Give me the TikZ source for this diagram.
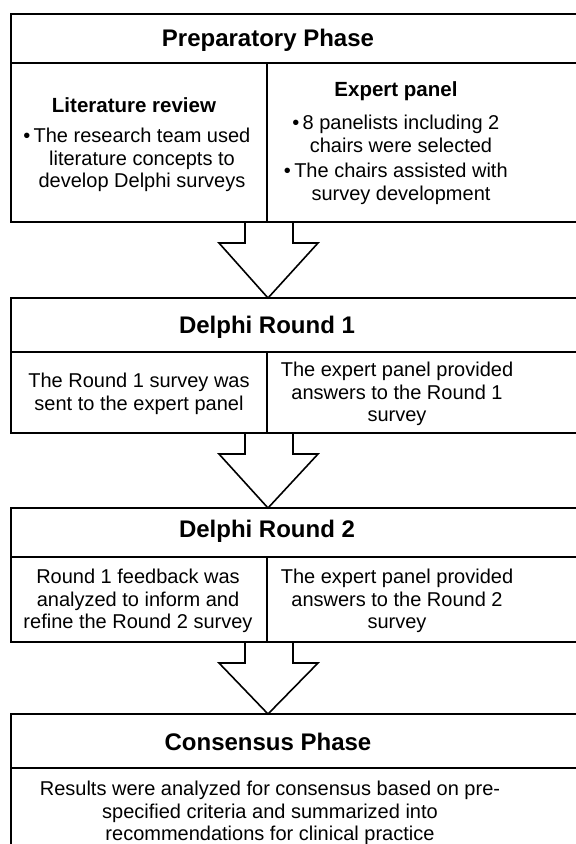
\documentclass[tikz,border=0pt]{standalone}
\usepackage{fontspec}
\setmainfont{Liberation Sans}
\usetikzlibrary{positioning,calc}

% hollow arrow between two boxes
\newcommand{\bigarrow}[2]{%
  \draw[boxline] ($(#1)+(-23,0)$) -- ($(#1)+(-23,21)$) -- ($(#1)+(-49,21)$) -- (#2)
    -- ($(#1)+(50,21)$) -- ($(#1)+(25,21)$) -- ($(#1)+(25,0)$);}

\begin{document}
\begin{tikzpicture}[x=1pt,y=-1pt,
    boxline/.style={line width=1.6pt,line join=miter},
    phase/.style={inner sep=0pt,font=\bfseries\fontsize{24}{28}\selectfont},
    subhead/.style={inner sep=0pt,font=\bfseries\fontsize{20.5}{24}\selectfont},
    body/.style={inner sep=0pt,align=center,font=\fontsize{20}{22.5}\selectfont}]
    \useasboundingbox (0,0) rectangle (576,844);
    \clip (0,0) rectangle (576,844);

    % Boxes
    \draw[boxline] (11,14) rectangle (584,222);
    \draw[boxline] (11,63) -- (584,63) (267,63) -- (267,222);
    \draw[boxline] (11,298) rectangle (584,433);
    \draw[boxline] (11,352) -- (584,352) (267,352) -- (267,433);
    \draw[boxline] (11,508) rectangle (584,642);
    \draw[boxline] (11,557) -- (584,557) (267,557) -- (267,642);
    \draw[boxline] (11,714) rectangle (584,860);
    \draw[boxline] (11,768) -- (584,768);

    % Arrow ends
    \coordinate (prep-out) at (268,222);
    \coordinate (r1-in) at (268,298);
    \coordinate (r1-out) at (268,433);
    \coordinate (r2-in) at (268,508);
    \coordinate (r2-out) at (268,642);
    \coordinate (cons-in) at (268,714);

    % Arrows
    \bigarrow{prep-out}{r1-in}
    \bigarrow{r1-out}{r2-in}
    \bigarrow{r2-out}{cons-in}

    % Preparatory phase
    \node[phase] (prep) at (268,40) {Preparatory Phase};
    \node[subhead] (lit) at (134,105) {Literature review};
    \node[body] (littext) at (142,160) {\llap{\textbullet\,}The research team used\\
        literature concepts to\\develop Delphi surveys};
    \node[subhead] (panel) at (396,91) {Expert panel};
    \node[body] (paneltext) at (401,160) {\llap{\textbullet\,}8 panelists including 2\\
        chairs were selected\\[3pt]\llap{\textbullet\,}The chairs assisted with\\survey development};

    % Round 1
    \node[phase] (r1) at (267,327) {Delphi Round 1};
    \node[body] (r1left) at (139,394) {The Round 1 survey was\\sent to the expert panel};
    \node[body] (r1right) at (397,394) {The expert panel provided\\answers to the Round 1\\survey};

    % Round 2
    \node[phase] (r2) at (267,531) {Delphi Round 2};
    \node[body] (r2left) at (138,601) {Round 1 feedback was\\analyzed to inform and\\refine the Round 2 survey};
    \node[body] (r2right) at (397,601) {The expert panel provided\\answers to the Round 2\\survey};

    % Consensus
    \node[phase] (cons) at (268,742) {Consensus Phase};
    \node[body] (constext) at (270,813) {Results were analyzed for consensus based on pre-\\
        specified criteria and summarized into\\recommendations for clinical practice};
\end{tikzpicture}
\end{document}
